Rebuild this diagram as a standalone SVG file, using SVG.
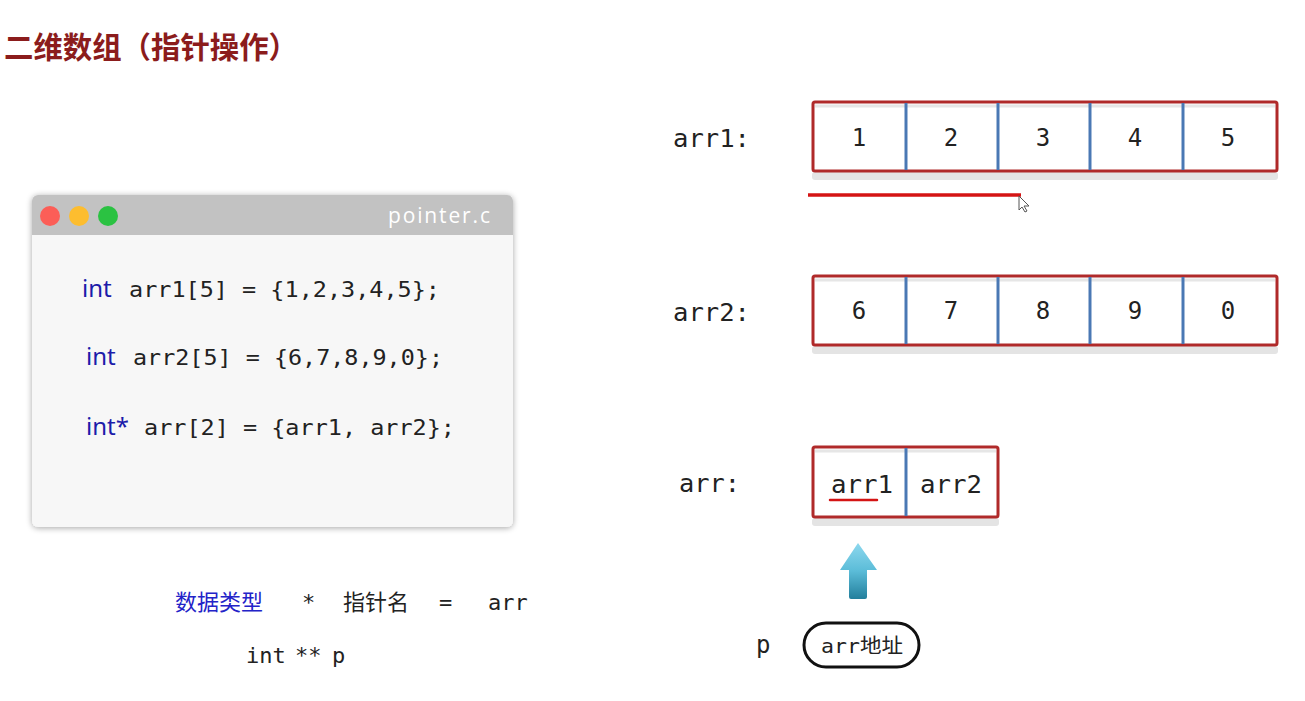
<svg xmlns="http://www.w3.org/2000/svg" width="1305" height="701" viewBox="0 0 1305 701">
<style>
.title{font-family:"Noto Sans CJK SC","Noto Sans",sans-serif;font-size:30px;font-weight:bold;fill:#8b1c1c}
.mono{font-family:"DejaVu Sans Mono","Liberation Mono",monospace;fill:#222}
.kw{font-family:"Noto Sans","Open Sans",sans-serif;fill:#1c1caa}
.cjk{font-family:"Noto Sans CJK SC",sans-serif;fill:#222}
.box{fill:#fff;stroke:#b02a2a;stroke-width:3}
.div{stroke:#4a78b4;stroke-width:3}
.cell{font-family:"DejaVu Sans Mono","Liberation Mono",monospace;font-size:24px;fill:#222;text-anchor:middle}
.shadow{fill:#e4e4e4}
.inner{stroke:#e6e6e6;stroke-width:3}
</style>
<defs>
<filter id="ds" x="-5%" y="-5%" width="110%" height="115%">
<feGaussianBlur in="SourceAlpha" stdDeviation="3"/>
<feOffset dx="0" dy="1"/>
<feComponentTransfer><feFuncA type="linear" slope="0.35"/></feComponentTransfer>
<feMerge><feMergeNode/><feMergeNode in="SourceGraphic"/></feMerge>
</filter>
<linearGradient id="ag" x1="0" y1="0" x2="0" y2="1">
<stop offset="0" stop-color="#8dd8ee"/>
<stop offset="0.5" stop-color="#5bbcd8"/>
<stop offset="1" stop-color="#237f9c"/>
</linearGradient>
</defs>
<rect width="1305" height="701" fill="#fff"/>
<text class="title" x="4" y="58" textLength="294" lengthAdjust="spacingAndGlyphs">二维数组（指针操作）</text>

<g id="code-window">
<g filter="url(#ds)">
<rect x="32" y="195" width="481" height="332" rx="6" fill="#f7f7f7"/>
</g>
<path d="M32 235 V201 a6 6 0 0 1 6 -6 H507 a6 6 0 0 1 6 6 V235 Z" fill="#c2c2c2"/>
<circle cx="50" cy="216" r="10" fill="#fc5e57"/>
<circle cx="79" cy="216" r="10" fill="#fdbd2f"/>
<circle cx="108" cy="216" r="10" fill="#2bc242"/>
<text x="490" y="223" text-anchor="end" font-family="'Open Sans','Noto Sans',sans-serif" font-size="21" fill="#fff" textLength="102" lengthAdjust="spacing">pointer.c</text>
<text class="kw" x="82" y="297" font-size="24">int</text>
<text class="mono" x="129" y="297" font-size="22" textLength="311" lengthAdjust="spacingAndGlyphs">arr1[5] = {1,2,3,4,5};</text>
<text class="kw" x="86" y="365" font-size="24">int</text>
<text class="mono" x="133" y="365" font-size="22" textLength="310" lengthAdjust="spacingAndGlyphs">arr2[5] = {6,7,8,9,0};</text>
<text class="kw" x="86" y="435" font-size="24">int*</text>
<text class="mono" x="144" y="435" font-size="22" textLength="311" lengthAdjust="spacingAndGlyphs">arr[2] = {arr1, arr2};</text>
</g>

<g id="arr1">
<text class="mono" x="673" y="147" font-size="24" textLength="77" lengthAdjust="spacingAndGlyphs">arr1:</text>
<rect class="shadow" x="812" y="172" width="466" height="8" rx="3"/>
<rect class="box" x="813" y="102" width="464" height="69" rx="2"/>
<line class="inner" x1="815" y1="106" x2="1275" y2="106"/>
<line class="div" x1="906" y1="103" x2="906" y2="170"/>
<line class="div" x1="998" y1="103" x2="998" y2="170"/>
<line class="div" x1="1090" y1="103" x2="1090" y2="170"/>
<line class="div" x1="1183" y1="103" x2="1183" y2="170"/>
<text class="cell" x="859" y="146">1</text>
<text class="cell" x="951" y="146">2</text>
<text class="cell" x="1043" y="146">3</text>
<text class="cell" x="1135" y="146">4</text>
<text class="cell" x="1228" y="146">5</text>
</g>

<g id="arr2">
<text class="mono" x="673" y="321" font-size="24" textLength="77" lengthAdjust="spacingAndGlyphs">arr2:</text>
<rect class="shadow" x="812" y="346" width="466" height="8" rx="3"/>
<rect class="box" x="813" y="276" width="464" height="69" rx="2"/>
<line class="inner" x1="815" y1="280" x2="1275" y2="280"/>
<line class="div" x1="906" y1="277" x2="906" y2="344"/>
<line class="div" x1="998" y1="277" x2="998" y2="344"/>
<line class="div" x1="1090" y1="277" x2="1090" y2="344"/>
<line class="div" x1="1183" y1="277" x2="1183" y2="344"/>
<text class="cell" x="859" y="319">6</text>
<text class="cell" x="951" y="319">7</text>
<text class="cell" x="1043" y="319">8</text>
<text class="cell" x="1135" y="319">9</text>
<text class="cell" x="1228" y="319">0</text>
</g>

<g id="arr">
<text class="mono" x="679" y="492" font-size="24" textLength="61" lengthAdjust="spacingAndGlyphs">arr:</text>
<rect class="shadow" x="812" y="518" width="187" height="8" rx="3"/>
<rect class="box" x="813" y="447" width="185" height="70" rx="2"/>
<line class="inner" x1="815" y1="451" x2="996" y2="451"/>
<line class="div" x1="906" y1="448" x2="906" y2="516"/>
<text class="cell" x="862" y="493" font-size="25" textLength="62" lengthAdjust="spacingAndGlyphs">arr1</text>
<text class="cell" x="951" y="493" font-size="25" textLength="62" lengthAdjust="spacingAndGlyphs">arr2</text>
<line x1="830" y1="500" x2="877" y2="500" stroke="#d41414" stroke-width="2.5" stroke-linecap="round"/>
</g>

<g id="p">
<text class="mono" x="756" y="653" font-size="24">p</text>
<rect x="804" y="623" width="115" height="44" rx="22" fill="#fff" stroke="#111" stroke-width="3"/>
<text x="862" y="653" text-anchor="middle" font-family="'DejaVu Sans Mono','Noto Sans CJK SC',monospace" font-size="20" fill="#222" textLength="82" lengthAdjust="spacingAndGlyphs">arr地址</text>
</g>

<g id="formula">
<text class="cjk" x="175" y="610" font-size="22" style="fill:#2323c8">数据类型</text>
<text class="mono" x="302" y="610" font-size="22">*</text>
<text class="cjk" x="343" y="610" font-size="22">指针名</text>
<text class="mono" x="439" y="610" font-size="22">=</text>
<text class="mono" x="488" y="610" font-size="22">arr</text>
<text class="mono" x="246" y="663" font-size="22">int</text>
<text class="mono" x="295" y="663" font-size="22">**</text>
<text class="mono" x="332" y="663" font-size="22">p</text>
</g>

<g id="connectors">
<line x1="808" y1="195" x2="1021" y2="195" stroke="#d41414" stroke-width="3.5"/>
<path d="M1019 196 L1019 210 L1022 207 L1025 212 L1027 211 L1024 206 L1029 206 Z" fill="#fff" stroke="#555" stroke-width="1"/>
<path d="M858 543 L877 570 L867 570 L867 597 Q867 599 865 599 L851 599 Q849 599 849 597 L849 570 L840 570 Z" fill="url(#ag)"/>
</g>
</svg>
